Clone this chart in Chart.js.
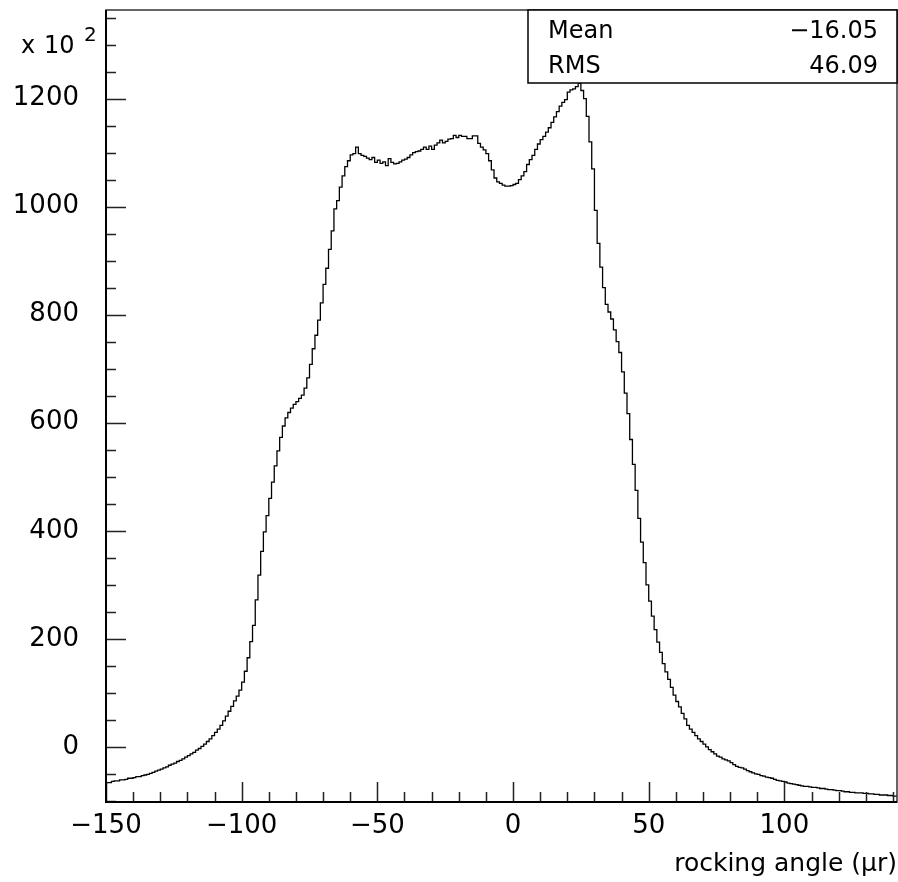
<!DOCTYPE html>
<html lang="en">
<head>
    <meta charset="UTF-8">
    <title>Rocking angle histogram</title>
    <script src="https://cdn.jsdelivr.net/npm/chart.js"></script>
    <style>
        body {
            margin: 0;
            background-color: #fff;
        }
        #wrap {
            width: 898px;
            height: 882px;
        }
    </style>
</head>
<body>
    <div id="wrap"><canvas id="hist" width="898" height="882"></canvas></div>

    <script>
        // histogram bins, 1 unit wide, starting at -150 (values in units of 10^2)
        const binStart = -150;
        const binWidth = 1;

        // -150 .. -95
        const leftTail = [-67, -66, -66, -64, -63, -63, -61, -61, -60, -58,
                          -58, -57, -55, -55, -53, -52, -51, -49, -47, -45,
                          -43, -41, -39, -37, -34, -32, -30, -27, -25, -22,
                          -19, -16, -13, -10, -6, -3, 1, 5, 10, 15,
                          21, 27, 33, 40, 48, 57, 66, 75, 85, 94,
                          105, 120, 140, 165, 195, 225];
        // -94 .. -61
        const rise = [272, 318, 362, 398, 428, 460, 490, 520, 548, 573,
                      594, 609, 619, 627, 634, 639, 645, 651, 664, 683,
                      708, 737, 762, 790, 822, 856, 886, 921, 955, 996,
                      1011, 1036, 1057, 1074];
        // -60 .. -1
        const plateau = [1085, 1096, 1098, 1110, 1098, 1095, 1093, 1090, 1087, 1091,
                         1082, 1086, 1080, 1083, 1076, 1089, 1082, 1079, 1080, 1083,
                         1086, 1088, 1091, 1096, 1100, 1102, 1103, 1106, 1110, 1106,
                         1112, 1106, 1114, 1118, 1123, 1118, 1121, 1125, 1126, 1132,
                         1128, 1132, 1130, 1130, 1126, 1126, 1131, 1131, 1117, 1110,
                         1105, 1098, 1085, 1068, 1053, 1046, 1043, 1040, 1038, 1038];
        // 0 .. 34
        const peak = [1039, 1041, 1043, 1050, 1057, 1065, 1078, 1087, 1095, 1106,
                      1116, 1124, 1130, 1138, 1146, 1156, 1166, 1176, 1186, 1193,
                      1198, 1212, 1216, 1218, 1222, 1228, 1215, 1200, 1167, 1120,
                      1070, 993, 932, 888, 850];
        // 35 .. 64
        const fall = [819, 805, 792, 772, 750, 730, 694, 655, 617, 569,
                      523, 475, 423, 379, 341, 300, 270, 242, 217, 194,
                      175, 154, 139, 125, 110, 96, 84, 74, 62, 52];
        // 65 .. 141
        const rightTail = [40, 33, 27, 21, 15, 10, 5, 0, -5, -9,
                           -13, -17, -19, -22, -24, -26, -29, -33, -36, -38,
                           -39, -41, -44, -46, -48, -50, -51, -53, -54, -56,
                           -57, -58, -60, -62, -63, -64, -65, -67, -68, -69,
                           -70, -71, -72, -73, -73, -74, -75, -75, -76, -77,
                           -77, -78, -79, -79, -80, -81, -81, -82, -83, -83,
                           -84, -84, -85, -85, -85, -86, -86, -87, -87, -88,
                           -88, -89, -89, -89, -90, -90, -91];

        const xTickLabels = [-150, -100, -50, 0, 50, 100];
        const yTickLabels = [0, 200, 400, 600, 800, 1000, 1200];
        const statNames = ['Mean', 'RMS'];
        const statValues = ['\u221216.05', '46.09'];

        const counts = [].concat(leftTail, rise, plateau, peak, fall, rightTail);

        // stepped outline: one point per bin low edge, plus the closing edge
        const points = counts.map((v, i) => ({ x: binStart + i * binWidth, y: v }));
        points.push({ x: binStart + counts.length * binWidth, y: counts[counts.length - 1] });

        const FONT = 'DejaVu Sans';
        Chart.defaults.font.family = FONT;
        Chart.defaults.color = '#000';

        const minus = v => String(v).replace('-', '\u2212');

        // frame, inward ticks, stats box and the exponent label
        const decorations = {
            id: 'decorations',
            afterDraw(chart) {
                const ctx = chart.ctx;
                const area = chart.chartArea;
                const xs = chart.scales.x;
                const ys = chart.scales.y;
                ctx.save();

                // ticks
                ctx.strokeStyle = '#222';
                ctx.lineWidth = 1.5;
                ctx.beginPath();
                for (let v = -150; v <= 140; v += 10) {
                    const px = Math.round(xs.getPixelForValue(v)) + 0.5;
                    const len = v % 50 === 0 ? 20 : 10;
                    ctx.moveTo(px, area.bottom);
                    ctx.lineTo(px, area.bottom - len);
                }
                for (let v = -100; v <= 1350; v += 50) {
                    const py = Math.round(ys.getPixelForValue(v)) + 0.5;
                    const len = v % 200 === 0 ? 20 : 10;
                    ctx.moveTo(area.left, py);
                    ctx.lineTo(area.left + len, py);
                }
                ctx.stroke();

                // frame
                ctx.strokeStyle = '#333';
                ctx.lineWidth = 1.5;
                ctx.strokeRect(area.left, area.top, area.right - area.left, area.bottom - area.top);
                ctx.strokeStyle = '#000';
                ctx.lineWidth = 2;
                ctx.beginPath();
                ctx.moveTo(area.left, area.top);
                ctx.lineTo(area.left, area.bottom);
                ctx.lineTo(area.right, area.bottom);
                ctx.stroke();

                // stats box
                const bx = area.right - 369, by = area.top, bw = 369, bh = 73;
                ctx.fillStyle = '#fff';
                ctx.fillRect(bx, by, bw, bh);
                ctx.strokeStyle = '#000';
                ctx.lineWidth = 1.5;
                ctx.strokeRect(bx, by, bw, bh);
                ctx.fillStyle = '#000';
                ctx.font = '24px "' + FONT + '"';
                ctx.textBaseline = 'alphabetic';
                statNames.forEach((name, i) => {
                    const base = by + 28 + i * 35;
                    ctx.textAlign = 'left';
                    ctx.fillText(name, bx + 20, base);
                    ctx.textAlign = 'right';
                    ctx.fillText(statValues[i], bx + bw - 19, base);
                });

                // x 10^2
                ctx.textAlign = 'left';
                ctx.font = '24px "' + FONT + '"';
                ctx.fillText('x', 21, 53);
                ctx.fillText('10', 44, 53);
                ctx.font = '20px "' + FONT + '"';
                ctx.fillText('2', 84, 41);

                ctx.restore();
            }
        };

        new Chart(document.getElementById('hist'), {
            type: 'line',
            data: {
                datasets: [{
                    data: points,
                    stepped: 'after',
                    borderColor: '#000',
                    borderWidth: 1.3,
                    pointRadius: 0,
                    fill: false
                }]
            },
            options: {
                responsive: false,
                animation: false,
                parsing: false,
                layout: { padding: { top: 10, right: 1, left: 0, bottom: 0 } },
                plugins: {
                    legend: { display: false },
                    tooltip: { enabled: false }
                },
                scales: {
                    x: {
                        type: 'linear',
                        min: -150,
                        max: 141.5,
                        grid: { display: false, drawTicks: false },
                        border: { display: false },
                        afterBuildTicks: s => { s.ticks = xTickLabels.map(v => ({ value: v })); },
                        afterFit: s => {
                            s.height = 80;
                            s.paddingLeft = 0;
                            s.paddingRight = 0;
                        },
                        ticks: {
                            padding: 9,
                            maxRotation: 0,
                            autoSkip: false,
                            font: { size: 26 },
                            callback: v => minus(v)
                        },
                        title: {
                            display: true,
                            text: 'rocking angle (\u03bcr)',
                            align: 'end',
                            font: { size: 25 },
                            padding: { top: 0, bottom: 3 }
                        }
                    },
                    y: {
                        type: 'linear',
                        min: -102,
                        max: 1364,
                        grid: { display: false, drawTicks: false },
                        border: { display: false },
                        afterBuildTicks: s => { s.ticks = yTickLabels.map(v => ({ value: v })); },
                        afterFit: s => {
                            s.width = 106;
                            s.paddingTop = 0;
                            s.paddingBottom = 0;
                        },
                        ticks: {
                            padding: 27,
                            autoSkip: false,
                            font: { size: 26 },
                            callback: v => minus(v)
                        }
                    }
                }
            },
            plugins: [decorations]
        });
    </script>
</body>
</html>
